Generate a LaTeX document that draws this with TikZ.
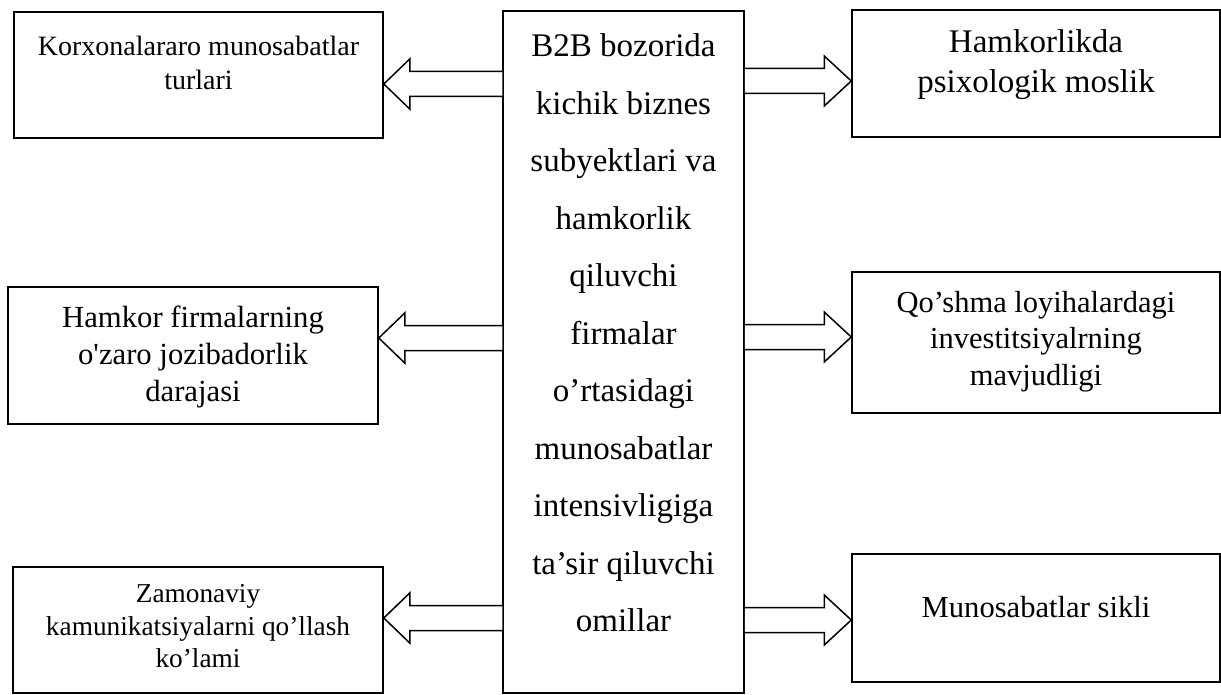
\documentclass[tikz,border=0pt]{standalone}
\usepackage{fontspec}
\setmainfont{Liberation Serif}[Ligatures=TeXOff]
\usetikzlibrary{calc}
\newcommand\blockarrow[3]{%
  \draw[barrow] let \p1=(#1), \p2=(#2) in
    ({\x1},{\y2+12.5pt}) -- ({\x2+#3},{\y2+12.5pt}) -- ({\x2+#3},{\y2+25pt}) -- (\p2)
    -- ({\x2+#3},{\y2-25pt}) -- ({\x2+#3},{\y2-12.5pt}) -- ({\x1},{\y2-12.5pt});}
\begin{document}
\begin{tikzpicture}[x=1pt,y=-1pt,
  box/.style={draw, line width=1.5pt, inner sep=0pt},
  txt/.style={align=center, inner sep=0pt},
  ctxt/.style={align=center, font=\fontsize{33}{57.5}\selectfont, inner sep=0pt},
  barrow/.style={draw, line width=1.5pt, fill=white, line join=miter}]
\useasboundingbox (0,0) rectangle (1221,695);
% boxes
\node[box, minimum width=241pt, minimum height=682pt] (c) at (623.5,352) {};
\node[box, minimum width=369pt, minimum height=126pt] (l1) at (198.5,75) {};
\node[box, minimum width=370pt, minimum height=137pt] (l2) at (193,355.5) {};
\node[box, minimum width=370pt, minimum height=126pt] (l3) at (198,630) {};
\node[box, minimum width=368pt, minimum height=127pt] (r1) at (1036,73.5) {};
\node[box, minimum width=368pt, minimum height=141pt] (r2) at (1036,342.5) {};
\node[box, minimum width=368pt, minimum height=128pt] (r3) at (1036,618) {};
% texts
\node[ctxt] (ct) at (623.5,333.2) {B2B bozorida\\kichik biznes\\subyektlari va\\hamkorlik\\qiluvchi\\firmalar\\o’rtasidagi\\munosabatlar\\intensivligiga\\ta’sir qiluvchi\\omillar};
\node[txt, font=\fontsize{28}{34}\selectfont] (l1t) at (198.5,62.5) {Korxonalararo munosabatlar\\turlari};
\node[txt, font=\fontsize{30.7}{37}\selectfont] (l2t) at (193,357.2) {Hamkor firmalarning\\o'zaro jozibadorlik\\darajasi};
\node[txt, font=\fontsize{27.3}{32.5}\selectfont] (l3t) at (198,626.2) {Zamonaviy\\kamunikatsiyalarni qo’llash\\ko’lami};
\node[txt, font=\fontsize{33}{40}\selectfont] (r1t) at (1036,64.4) {Hamkorlikda\\psixologik moslik};
\node[txt, font=\fontsize{30.5}{36.5}\selectfont] (r2t) at (1036,341.4) {Qo’shma loyihalardagi\\investitsiyalrning\\mavjudligi};
\node[txt, font=\fontsize{30.6}{37}\selectfont] (r3t) at (1036,607.5) {Munosabatlar sikli};
% arrow tips
\coordinate (tl1) at ([yshift=-9pt]l1.east);
\coordinate (tl2) at ([yshift=17.5pt]l2.east);
\coordinate (tl3) at ([yshift=12pt]l3.east);
\coordinate (tr1) at ([yshift=-7.5pt]r1.west);
\coordinate (tr2) at ([yshift=5.5pt]r2.west);
\coordinate (tr3) at ([yshift=-2pt]r3.west);
\blockarrow{c.west}{tl1}{26pt}
\blockarrow{c.west}{tl2}{26pt}
\blockarrow{c.west}{tl3}{26pt}
\blockarrow{c.east}{tr1}{-27pt}
\blockarrow{c.east}{tr2}{-27pt}
\blockarrow{c.east}{tr3}{-27pt}
\end{tikzpicture}
\end{document}
